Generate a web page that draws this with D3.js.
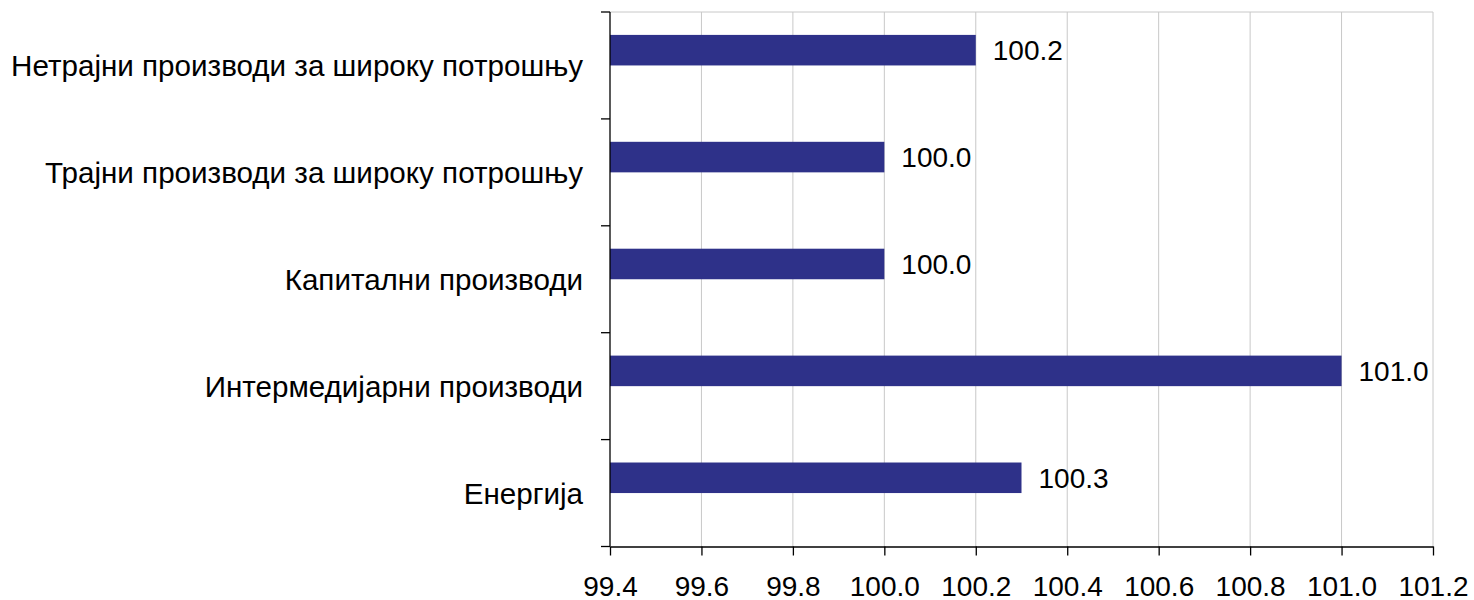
<!DOCTYPE html>
<html>
<head lang="sr">
  <meta charset="UTF-8">
  <title>Индекси по наменским групама</title>
</head>
<style>
  body { margin: 0; background: #fff; }
  #chart text { font-family: "Liberation Sans", Arial, sans-serif; fill: #000; }
  .grid line { stroke: #c8c8c8; stroke-width: 1; }
  .axis path, .axis line { stroke: #000; stroke-width: 1.3; }
</style>
<body>

<svg id="chart" width="1474" height="600"></svg>

<script src="https://cdn.jsdelivr.net/npm/d3@7/dist/d3.min.js"></script>
<script>
  var categories = [
    'Нетрајни производи за широку потрошњу',
    'Трајни производи за широку потрошњу',
    'Капитални производи',
    'Интермедијарни производи',
    'Енергија'
  ];
  var values = [ 100.2, 100.0, 100.0, 101.0, 100.3 ];
  var xTicks = [ 99.4, 99.6, 99.8, 100.0, 100.2, 100.4, 100.6, 100.8, 101.0, 101.2 ];

  var plotLeft = 610, plotRight = 1433, plotTop = 12, plotBottom = 546.5;
  var fontSize = 28;
  var svg = d3.select('#chart');

  var x = d3.scaleLinear().domain([99.4, 101.2]).range([plotLeft, plotRight]);
  var y = d3.scaleBand().domain(categories).range([plotTop, plotBottom]);
  // Excel-style bar slot: room for two series, gap width 150%
  var slot = d3.scaleBand().domain(['a', 'b']).range([0, y.bandwidth()]).paddingOuter(0.75);

  // grid
  svg.append('g').attr('class', 'grid')
    .selectAll('line')
    .data(xTicks.slice(1))
    .enter().append('line')
      .attr('x1', function (d) { return x(d); })
      .attr('x2', function (d) { return x(d); })
      .attr('y1', plotTop)
      .attr('y2', plotBottom);
  svg.append('g').attr('class', 'grid')
    .append('line')
      .attr('x1', plotLeft).attr('x2', plotRight)
      .attr('y1', plotTop).attr('y2', plotTop);

  // bars
  svg.append('g')
    .selectAll('rect')
    .data(values)
    .enter().append('rect')
      .attr('x', x(99.4))
      .attr('y', function (d, i) { return y(categories[i]) + slot('a'); })
      .attr('width', function (d) { return x(d) - x(99.4); })
      .attr('height', slot.bandwidth())
      .attr('fill', '#2e3189');

  // value labels
  svg.append('g')
    .selectAll('text')
    .data(values)
    .enter().append('text')
      .attr('x', function (d) { return x(d) + 17; })
      .attr('y', function (d, i) { return y(categories[i]) + slot('a') + slot.bandwidth() / 2; })
      .attr('dy', '0.36em')
      .attr('font-size', fontSize)
      .text(function (d) { return d.toFixed(1); });

  // x axis
  var xAxis = d3.axisBottom(x).tickValues(xTicks).tickSize(9).tickSizeOuter(0)
    .tickFormat(function (d) { return d.toFixed(1); });
  var gx = svg.append('g').attr('class', 'axis')
    .attr('transform', 'translate(0,' + plotBottom + ')')
    .call(xAxis);
  gx.select('.domain').attr('stroke', '#000');
  gx.selectAll('text').attr('font-size', fontSize).attr('y', 49).attr('dy', 0);

  // y axis: ticks at category boundaries
  svg.append('g').attr('class', 'axis')
    .append('line')
      .attr('x1', plotLeft).attr('x2', plotLeft)
      .attr('y1', plotTop).attr('y2', plotBottom);
  svg.append('g').attr('class', 'axis')
    .selectAll('line')
    .data(d3.range(categories.length + 1))
    .enter().append('line')
      .attr('x1', plotLeft - 9).attr('x2', plotLeft)
      .attr('y1', function (i) { return plotTop + i * y.step(); })
      .attr('y2', function (i) { return plotTop + i * y.step(); });

  svg.append('g')
    .selectAll('text')
    .data(categories)
    .enter().append('text')
      .attr('x', plotLeft - 27)
      .attr('y', function (d) { return y(d) + y.bandwidth() / 2; })
      .attr('dy', '0.36em')
      .attr('text-anchor', 'end')
      .attr('font-size', 29.6)
      .text(function (d) { return d; });
</script>
</body>
</html>
